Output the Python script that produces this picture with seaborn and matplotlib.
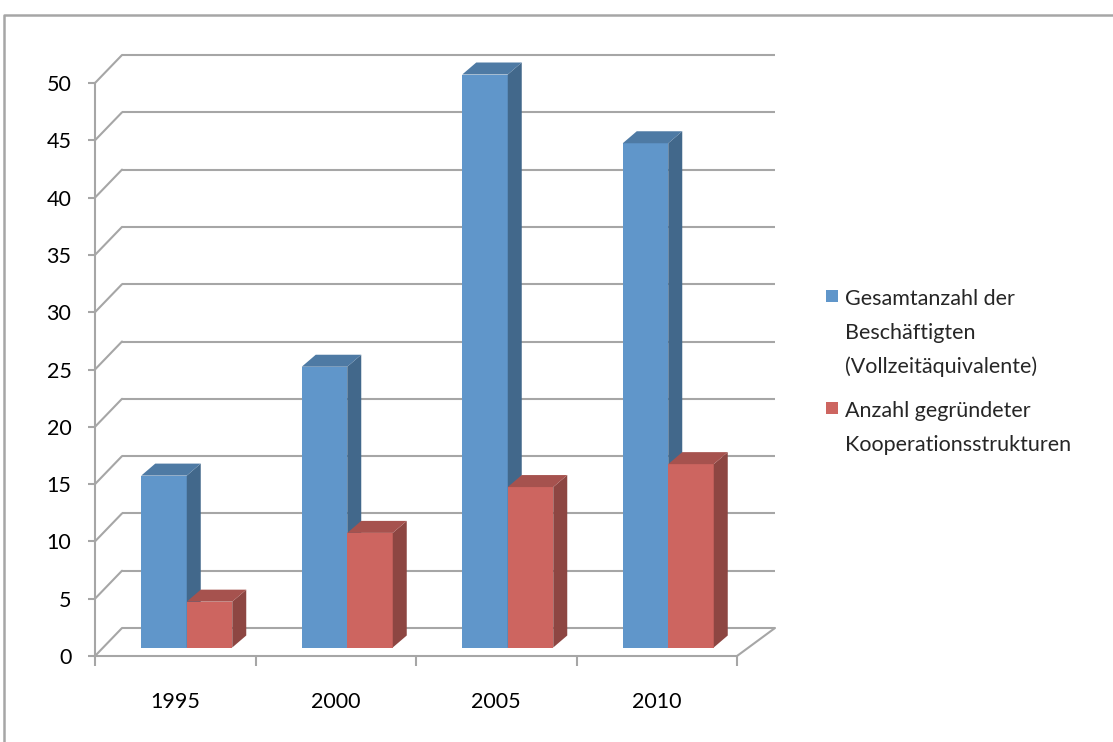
import numpy as np
import pandas as pd
import matplotlib
matplotlib.use("Agg")
import matplotlib.pyplot as plt
import matplotlib.transforms as mtransforms
from matplotlib.patches import Polygon, Rectangle
from matplotlib.lines import Line2D
import seaborn as sns

# data
jahre = ["1995", "2000", "2005", "2010"]
beschaeftigte = [15, 24.5, 50, 44]
kooperationen = [4, 10, 14, 16]
reihen = ["Gesamtanzahl der\nBeschäftigten\n(Vollzeitäquivalente)",
          "Anzahl gegründeter\nKooperationsstrukturen"]
y_ticks = list(range(0, 55, 5))

blau = "#6096CA"
rot = "#CD6560"
grau = "#A6A6A6"

sns.set_style("white")
plt.rcParams['font.family'] = ['Lato', 'DejaVu Sans']

W, H = 1113, 742
fig = plt.figure(figsize=(W / 100, H / 100), dpi=100)
# axes = front plane of the 3d box, in pixel terms
ax = fig.add_axes([95 / W, (H - 656) / H, 642 / W, 573 / H])

df = pd.DataFrame({
    "Jahr": jahre * 2,
    "Wert": beschaeftigte + kooperationen,
    "Reihe": [reihen[0]] * 4 + [reihen[1]] * 4,
})

sns.barplot(data=df, x="Jahr", y="Wert", hue="Reihe", order=jahre,
            hue_order=reihen, palette=[blau, rot], width=0.567,
            saturation=1, errorbar=None, legend=False, ax=ax, linewidth=0)

ax.set_xlim(-0.5, 3.5)
ax.set_ylim(0, 50)

px_x = 642 / 4.0      # pixels per category
px_y = 573 / 50.0     # pixels per unit


def shade(c, f):
    r, g, b = matplotlib.colors.to_rgb(c)
    return (r * f, g * f, b * f)


# bars sit a bit behind the front plane
bar_tr = ax.transData + mtransforms.ScaledTranslation(
    11.5 / 100, 8.5 / 100, fig.dpi_scale_trans)
ddx = 14 / px_x
ddy = 12 / px_y

bars = sorted(ax.patches, key=lambda p: p.get_x())
for k, p in enumerate(bars):
    z = 3 + k * 0.01
    x0, w, h = p.get_x(), p.get_width(), p.get_height()
    fc = p.get_facecolor()
    p.set_transform(bar_tr)
    p.set_clip_on(False)
    p.set_zorder(z)
    side = Polygon([(x0 + w, 0), (x0 + w + ddx, ddy),
                    (x0 + w + ddx, h + ddy), (x0 + w, h)],
                   closed=True, fc=shade(fc, 0.69), ec="none",
                   transform=bar_tr, clip_on=False, zorder=z + 0.002)
    top = Polygon([(x0, h), (x0 + w, h), (x0 + w + ddx, h + ddy),
                   (x0 + ddx, h + ddy)],
                  closed=True, fc=shade(fc, 0.81), ec="none",
                  transform=bar_tr, clip_on=False, zorder=z + 0.003)
    ax.add_patch(side)
    ax.add_patch(top)

# back wall gridlines and the diagonals to the value axis
bx0 = -0.5 + 27 / px_x
bx1 = 3.5 + 38 / px_x
by = 28 / px_y
for v in y_ticks:
    ax.plot([bx0, bx1], [v + by, v + by], color=grau, lw=1.5,
            clip_on=False, zorder=1, solid_capstyle="butt")
    ax.plot([-0.5, bx0], [v, v + by], color=grau, lw=1.5,
            clip_on=False, zorder=1)
# floor right edge
ax.plot([3.5, bx1], [0, by], color=grau, lw=1.5, clip_on=False, zorder=1)

# axes styling
for s in ["top", "right"]:
    ax.spines[s].set_visible(False)
for s in ["left", "bottom"]:
    ax.spines[s].set_color(grau)
    ax.spines[s].set_linewidth(1.5)
    ax.spines[s].set_zorder(1)

fs = 15.5
ax.set_yticks(y_ticks)
ax.set_yticklabels([str(v) for v in y_ticks])
ax.tick_params(axis="y", length=5, width=1.5, color=grau, direction="out",
               pad=12, labelsize=fs, labelcolor="black", left=True)
ax.set_xticks(range(len(jahre)))
ax.set_xticklabels(jahre)
ax.set_xticks(np.arange(-0.5, 4, 1), minor=True)
ax.tick_params(axis="x", which="major", length=0, pad=26, labelsize=fs,
               labelcolor="black")
ax.tick_params(axis="x", which="minor", length=7, width=1.5, color=grau,
               direction="out", bottom=True)
ax.set_xlabel("")
ax.set_ylabel("")
ax.grid(False)

# legend drawn by hand so the box sits next to the first line
leg_y = [290, 402]
for c, lab, y in zip([blau, rot], reihen, leg_y):
    fig.patches.append(Rectangle((826 / W, (H - y - 12) / H), 12 / W, 12 / H,
                                 transform=fig.transFigure, fc=c, ec="none"))
    fig.text(845 / W, (H - y + 1) / H, lab, fontsize=fs, va="top",
             ha="left", linespacing=1.85)

# outer chart frame (top and left edge visible)
fig.add_artist(Line2D([4 / W, 4 / W, 1.0], [0.0, (H - 15) / H, (H - 15) / H],
                      transform=fig.transFigure, color=grau, lw=1.8))

fig.savefig("out.png", dpi=100)
